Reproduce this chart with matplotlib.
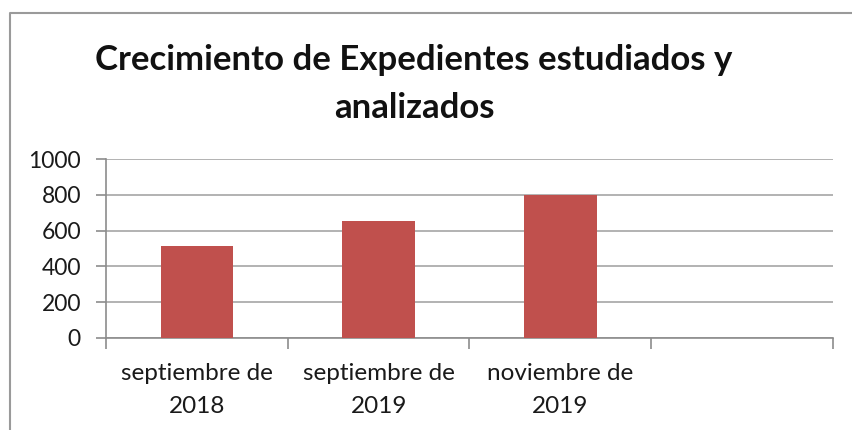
import matplotlib.pyplot as plt
from matplotlib.lines import Line2D

categories = ["septiembre de\n2018", "septiembre de\n2019", "noviembre de\n2019", ""]
values = [515, 652, 800, None]
yticks = [0, 200, 400, 600, 800, 1000]
title = "Crecimiento de Expedientes estudiados y\nanalizados"

plt.rcParams['font.family'] = ['Lato', 'DejaVu Sans']

fig = plt.figure(figsize=(8.53, 4.30), dpi=100)
ax = fig.add_axes([106 / 853, 1 - 338 / 430, 727 / 853, 179 / 430])

xs = [i for i, v in enumerate(values) if v is not None]
hs = [v for v in values if v is not None]
ax.bar(xs, hs, width=0.4, color="#C0504D", zorder=3)

ax.set_xlim(-0.5, len(categories) - 0.5)
ax.set_ylim(0, 1000)
ax.set_yticks(yticks)
ax.set_yticklabels([str(t) for t in yticks], fontsize=16.5, color="#1a1a1a")
ax.yaxis.grid(True, color="#a6a6a6", linewidth=1.2, zorder=0)

# category labels centred, tick marks at the boundaries
ax.set_xticks([i - 0.5 for i in range(len(categories) + 1)])
ax.set_xticklabels([])
ax.set_xticks(range(len(categories)), minor=True)
ax.set_xticklabels(categories, minor=True, fontsize=17.5, color="#1a1a1a", linespacing=1.7)
ax.tick_params(axis="x", which="minor", length=0, pad=18)
ax.tick_params(axis="x", which="major", length=8, width=1.2, color="#8c8c8c")
ax.tick_params(axis="y", length=7, width=1.2, color="#8c8c8c", pad=11)

for s in ["top", "right"]:
    ax.spines[s].set_visible(False)
for s in ["left", "bottom"]:
    ax.spines[s].set_color("#8c8c8c")
    ax.spines[s].set_linewidth(1.2)

fig.text(414 / 853, 1 - 84 / 430, title, ha="center", va="center",
         fontsize=25, fontweight="bold", color="#111111", linespacing=1.6)

# outer chart frame (cropped at right and bottom)
fig.add_artist(Line2D([10 / 853, 10 / 853, 1.0], [0.0, 1 - 13 / 430, 1 - 13 / 430],
                      transform=fig.transFigure, color="#9a9a9a", linewidth=1.5))

fig.savefig("out.png", dpi=100)
